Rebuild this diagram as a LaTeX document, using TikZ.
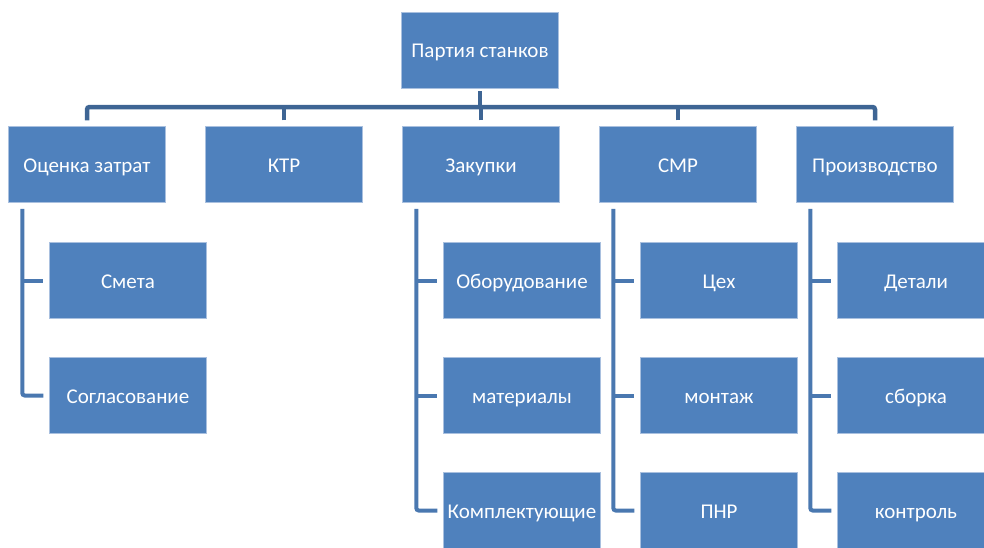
\documentclass[tikz,border=0pt]{standalone}
\usepackage{fontspec}
\setmainfont{Carlito}
\usetikzlibrary{calc}
\definecolor{boxblue}{HTML}{4F81BD}
\definecolor{boxedge}{HTML}{A9C0DF}
\definecolor{busblue}{HTML}{3E6594}
\definecolor{twigblue}{HTML}{4A78B0}
\begin{document}
\begin{tikzpicture}[x=1pt,y=-1pt,
  box/.style={rectangle, fill=boxblue, draw=boxedge, line width=0.5pt,
    minimum width=157pt, minimum height=76pt, inner sep=0pt,
    text height=16pt, text depth=1pt,
    text=white, font=\fontsize{21}{24}\selectfont},
  bus/.style={draw=busblue, line width=4.5pt, rounded corners=2.5pt},
  twig/.style={draw=twigblue, line width=4pt, rounded corners=2.5pt}]
\useasboundingbox (0,0) rectangle (984,547);
\clip (0,0) rectangle (984,547);

% root and first level
\node[box] (root) at (480,50) {Партия станков};
\node[box] (cost) at (87,164.5)  {Оценка затрат};
\node[box] (ktr)  at (284,164.5) {КТР};
\node[box] (buy)  at (481,164.5) {Закупки};
\node[box] (smr)  at (678,164.5) {СМР};
\node[box] (prod) at (875,164.5) {Производство};

% second level
\node[box] (est)  at (128,280.5) {Смета};
\node[box] (appr) at (128,395.5) {Согласование};
\node[box] (equip) at (522,280.5) {Оборудование};
\node[box] (mat)   at (522,395.5) {материалы};
\node[box] (comp)  at (522,510.5) {Комплектующие};
\node[box] (shop)  at (719,280.5) {Цех};
\node[box] (mont)  at (719,395.5) {монтаж};
\node[box] (pnr)   at (719,510.5) {ПНР};
\node[box] (part)  at (916,280.5) {Детали};
\node[box] (asm)   at (916,395.5) {сборка};
\node[box] (ctrl)  at (916,510.5) {контроль};

% horizontal bus under the root
\coordinate (busmid) at (480,107);
\draw[bus] ($(root.south)+(0,3)$) -- (busmid);
\draw[bus] ($(cost.north)+(0,-6)$) |- (busmid) -| ($(prod.north)+(0,-6)$);
\draw[bus] ($(ktr.north)+(0,-6)$) -- (ktr.north |- busmid);
\draw[bus] ($(buy.north)+(0,-6)$) -- (buy.north |- busmid);
\draw[bus] ($(smr.north)+(0,-6)$) -- (smr.north |- busmid);

% vertical spines to the second level
\coordinate (sp1) at ($(cost.south west)+(14,6)$);
\coordinate (sp3) at ($(buy.south west)+(14,6)$);
\coordinate (sp4) at ($(smr.south west)+(14,6)$);
\coordinate (sp5) at ($(prod.south west)+(14,6)$);

\draw[twig] (sp1) |- ($(appr.west)+(-6,0)$);
\draw[twig] (est.west -| sp1) -- ($(est.west)+(-6,0)$);

\draw[twig] (sp3) |- ($(comp.west)+(-6,0)$);
\draw[twig] (equip.west -| sp3) -- ($(equip.west)+(-6,0)$);
\draw[twig] (mat.west -| sp3) -- ($(mat.west)+(-6,0)$);

\draw[twig] (sp4) |- ($(pnr.west)+(-6,0)$);
\draw[twig] (shop.west -| sp4) -- ($(shop.west)+(-6,0)$);
\draw[twig] (mont.west -| sp4) -- ($(mont.west)+(-6,0)$);

\draw[twig] (sp5) |- ($(ctrl.west)+(-6,0)$);
\draw[twig] (part.west -| sp5) -- ($(part.west)+(-6,0)$);
\draw[twig] (asm.west -| sp5) -- ($(asm.west)+(-6,0)$);
\end{tikzpicture}
\end{document}
